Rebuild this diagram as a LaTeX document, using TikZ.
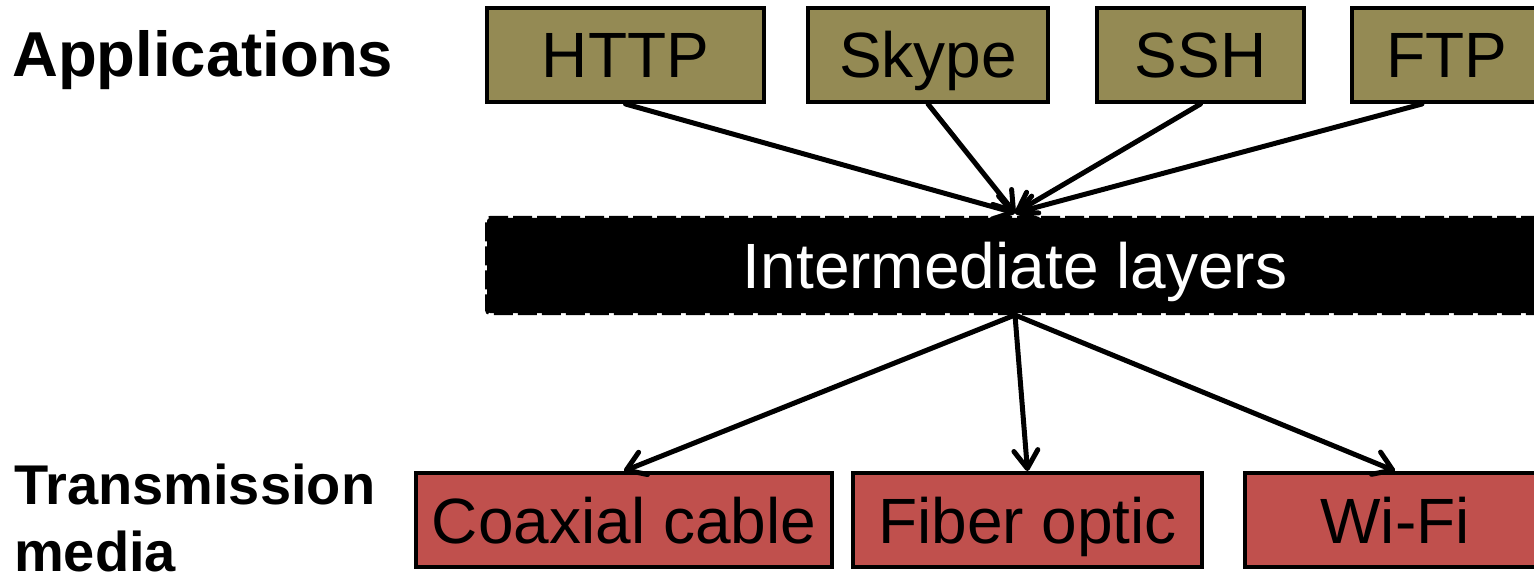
\documentclass[tikz,border=0pt]{standalone}
\usepackage{fontspec}
\setmainfont{Liberation Sans}
\usetikzlibrary{arrows.meta,calc}
\definecolor{olivebox}{HTML}{948A54}
\definecolor{redbox}{HTML}{C0504D}
\tikzset{
  appbox/.style={draw=black, line width=4pt, fill=olivebox, minimum height=94pt,
    inner sep=0pt, text height=46pt, text depth=0pt, font=\fontsize{64}{70}\selectfont},
  mediabox/.style={appbox, fill=redbox},
  midbox/.style={draw=black, fill=black, line width=4pt, dash pattern=on 19pt off 5pt,
    rounded corners=3pt, minimum height=95pt, inner sep=0pt, text height=46pt, text depth=0pt,
    text=white, font=\fontsize{64}{70}\selectfont},
  rowlabel/.style={font=\bfseries\fontsize{56}{67}\selectfont, inner sep=0pt, align=left},
  link/.style={line width=5pt, line cap=round, line join=round,
    -{Straight Barb[length=18pt,width=24pt,line cap=round,line join=round]}}
}
\begin{document}
\begin{tikzpicture}[x=1pt,y=-1pt]
\useasboundingbox (0,0) rectangle (1534,588);
\clip (0,0) rectangle (1534,588);
\fill[white] (0,0) rectangle (1534,588);
% applications
\node[appbox, minimum width=277pt] (http) at (625.5,55) {HTTP};
\node[appbox, minimum width=240pt] (skype) at (928,55) {Skype};
\node[appbox, minimum width=207pt] (ssh) at (1200.5,55) {SSH};
\node[appbox, minimum width=190pt] (ftp) at (1447,55) {FTP};
% intermediate
\node[midbox, minimum width=1056pt] (mid) at (1015,265.5) {Intermediate layers};
% media
\node[mediabox, minimum width=416pt] (coax) at (624,520) {Coaxial cable};
\node[mediabox, minimum width=349pt] (fiber) at (1027.5,520) {Fiber optic};
\node[mediabox, minimum width=300pt] (wifi) at (1395,520) {Wi-Fi};
% labels
\node[rowlabel, anchor=base west, font=\bfseries\fontsize{63.5}{70}\selectfont] (apps) at (12,77) {Applications};
\node[rowlabel, anchor=north west] (trans) at (14,464) {Transmission\\media};
% connectors
\coordinate (ftpout) at ($(ftp.south west)+(72,0)$);
\coordinate (midin) at ($(mid.north)+(0,-3)$);
\draw[link] (http.south) -- (midin);
\draw[link] (skype.south) -- (midin);
\draw[link] (ssh.south) -- (midin);
\draw[link] (ftpout) -- (midin);
\draw[link] (mid.south) -- (coax.north);
\draw[link] (mid.south) -- (fiber.north);
\draw[link] (mid.south) -- (wifi.north);
\end{tikzpicture}
\end{document}
